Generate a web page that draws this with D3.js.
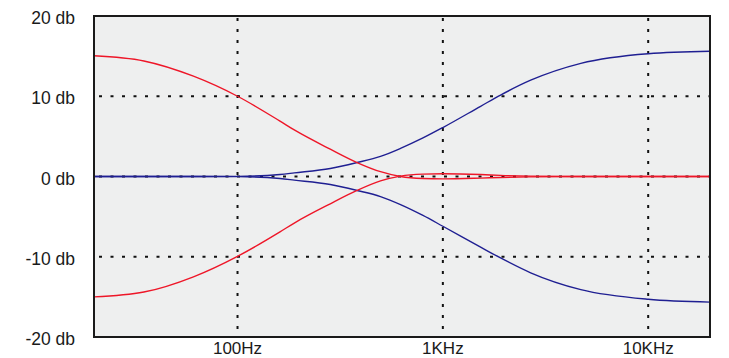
<!DOCTYPE html>
<html>
<head>
<meta charset="utf-8">
<script src="https://cdn.jsdelivr.net/npm/d3@7/dist/d3.min.js"></script>
<style>
html,body{margin:0;padding:0;background:#ffffff;}
svg{display:block;}
text{font-family:"Liberation Sans",Arial,sans-serif;fill:#1a1a1a;}
</style>
</head>
<body>
<svg id="chart" width="729" height="358"></svg>
<script>
// Frequencies (Hz) at which curve values were read
const freqs = [20, 35, 61, 100, 161, 189, 283, 382, 497, 622, 800, 1000, 1527, 1910, 2677, 4698, 10000, 20000];
// Bass boost (red, upper)
const bassBoost = [15.05, 14.4, 12.5, 10.0, 6.9, 5.8, 3.4, 1.74, 0.6, 0.0, -0.25, -0.3, -0.2, -0.12, -0.05, 0, 0, 0];
// Bass cut (red, lower)
const bassCut = [-15.0, -14.4, -12.5, -9.95, -6.9, -5.8, -3.4, -1.74, -0.55, 0.05, 0.3, 0.35, 0.25, 0.14, 0.05, 0, 0, 0];
// Treble boost (blue, upper)
const trebleBoost = [0, 0, 0, 0.02, 0.25, 0.45, 1.0, 1.74, 2.5, 3.5, 4.8, 6.1, 8.75, 10.15, 12.0, 14.1, 15.3, 15.6];
// Treble cut (blue, lower)
const trebleCut = [0, 0, 0, -0.02, -0.25, -0.45, -1.0, -1.74, -2.5, -3.5, -4.85, -6.2, -8.8, -10.15, -12.0, -14.1, -15.3, -15.65];

const yTicks = [20, 10, 0, -10, -20];
const yTickLabels = ["20 db", "10 db", "0 db", "-10 db", "-20 db"];
const xTicks = [100, 1000, 10000];
const xTickLabels = ["100Hz", "1KHz", "10KHz"];

const W = 729, H = 358;
const m = {left: 94, top: 16, right: 19, bottom: 21};
const pw = W - m.left - m.right, ph = H - m.top - m.bottom;

const svg = d3.select("#chart");
const x = d3.scaleLog().domain([20, 20000]).range([m.left, m.left + pw]);
const y = d3.scaleLinear().domain([-20, 20]).range([m.top + ph, m.top]);

// plot background
svg.append("rect").attr("x", m.left).attr("y", m.top).attr("width", pw).attr("height", ph)
  .attr("fill", "#eeefef");

// grid
const grid = svg.append("g");
grid.selectAll("line.h").data([10, 0, -10]).join("line")
  .attr("x1", m.left + 5).attr("x2", m.left + pw)
  .attr("y1", d => y(d)).attr("y2", d => y(d))
  .attr("stroke", "#111").attr("stroke-width", 2).attr("stroke-dasharray", "3,8.5");
grid.selectAll("line.v").data(xTicks).join("line")
  .attr("x1", d => x(d)).attr("x2", d => x(d))
  .attr("y1", m.top + 2).attr("y2", m.top + ph)
  .attr("stroke", "#111").attr("stroke-width", 2).attr("stroke-dasharray", "3,8");

// curves
const series = [
  {vals: trebleBoost, color: "#1f1f92"},
  {vals: trebleCut, color: "#1f1f92"},
  {vals: bassBoost, color: "#ee1628"},
  {vals: bassCut, color: "#ee1628"}
];
const line = d3.line().x(d => x(d[0])).y(d => y(d[1])).curve(d3.curveMonotoneX);
svg.append("g").selectAll("path").data(series).join("path")
  .attr("d", s => line(freqs.map((f, i) => [f, s.vals[i]])))
  .attr("fill", "none").attr("stroke", s => s.color).attr("stroke-width", 1.4);

// frame
svg.append("rect").attr("x", m.left).attr("y", m.top).attr("width", pw).attr("height", ph)
  .attr("fill", "none").attr("stroke", "#1a1a1a").attr("stroke-width", 2);

// y labels
svg.append("g").selectAll("text").data(yTicks).join("text")
  .attr("x", 75).attr("y", d => y(d) + 8)
  .attr("text-anchor", "end").attr("font-size", 17.5)
  .text((d, i) => yTickLabels[i]);

// x labels
svg.append("g").selectAll("text").data(xTicks).join("text")
  .attr("x", d => x(d)).attr("y", 354)
  .attr("text-anchor", "middle").attr("font-size", 17)
  .text((d, i) => xTickLabels[i]);
</script>
</body>
</html>
